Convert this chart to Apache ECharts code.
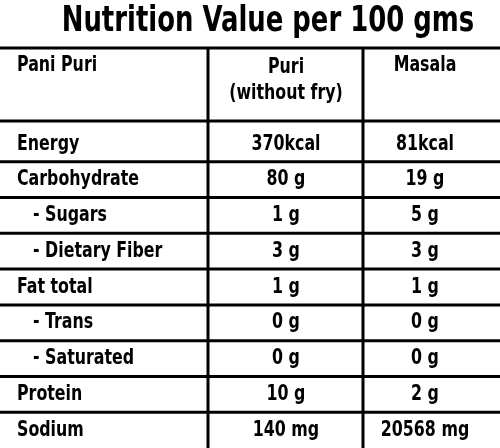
<!DOCTYPE html>
<html><head><meta charset="utf-8">
<script src="https://cdn.jsdelivr.net/npm/echarts@6/dist/echarts.min.js"></script>
<style>html,body{margin:0;padding:0;background:#fff}#c{width:500px;height:448px}</style>
</head><body><div id="c"></div>
<script>
const title = 'Nutrition Value per 100 gms';
const headers = ['Pani Puri', 'Puri\n(without fry)', 'Masala'];
const nutrients = ['Energy','Carbohydrate','- Sugars','- Dietary Fiber','Fat total','- Trans','- Saturated','Protein','Sodium'];
const puri = ['370kcal','80 g','1 g','3 g','1 g','0 g','0 g','10 g','140 mg'];
const masala = ['81kcal','19 g','5 g','3 g','1 g','0 g','0 g','2 g','20568 mg'];

const F = "'Liberation Sans Narrow','DejaVu Sans Condensed','DejaVu Sans',sans-serif";
const SX = 0.8;
function txt(text,x,y,align,size,vAlign,lh){
  return {type:'text',x:x,y:y,scaleX:SX,style:{text:text,x:0,y:0,align:align,verticalAlign:vAlign||'top',lineHeight:lh,font:"bold "+size+"px "+F,fill:'#000'}};
}
const chart = echarts.init(document.getElementById('c'));
chart.setOption({
  animation:false,
  grid:{left:0,right:0,top:126,bottom:0},
  xAxis:{type:'value',min:0,max:500,show:false},
  yAxis:{type:'category',inverse:true,data:nutrients,show:false},
  graphic:[
    txt(title,268,4,'center',36),
    {type:'line',shape:{x1:0,y1:48,x2:500,y2:48},style:{stroke:'#000',lineWidth:3}},
    {type:'line',shape:{x1:0,y1:121,x2:500,y2:121},style:{stroke:'#000',lineWidth:3}},
    {type:'line',shape:{x1:208,y1:48,x2:208,y2:448},style:{stroke:'#000',lineWidth:3}},
    {type:'line',shape:{x1:363,y1:48,x2:363,y2:448},style:{stroke:'#000',lineWidth:3}},
    txt(headers[0],17,54,'left',22),
    txt(headers[1],286,54,'center',22,'top',26),
    txt(headers[2],425,54,'center',22)
  ],
  series:[{
    type:'custom',
    data:nutrients.map((n,i)=>[i]),
    renderItem:function(params,api){
      const i=api.value(0);
      const c=api.coord([0,i]);
      const h=api.size([0,1])[1];
      const top=c[1]-h/2;
      const name=nutrients[i];
      const sub=name.startsWith('-');
      const children=[
        txt(name,sub?33:17,c[1],'left',22,'middle'),
        txt(puri[i],api.coord([286,i])[0],c[1],'center',22,'middle'),
        txt(masala[i],api.coord([425,i])[0],c[1],'center',22,'middle')
      ];
      if(i>0) children.push({type:'line',shape:{x1:0,y1:top,x2:500,y2:top},style:{stroke:'#000',lineWidth:3}});
      return {type:'group',children};
    }
  }]
});
</script></body></html>
